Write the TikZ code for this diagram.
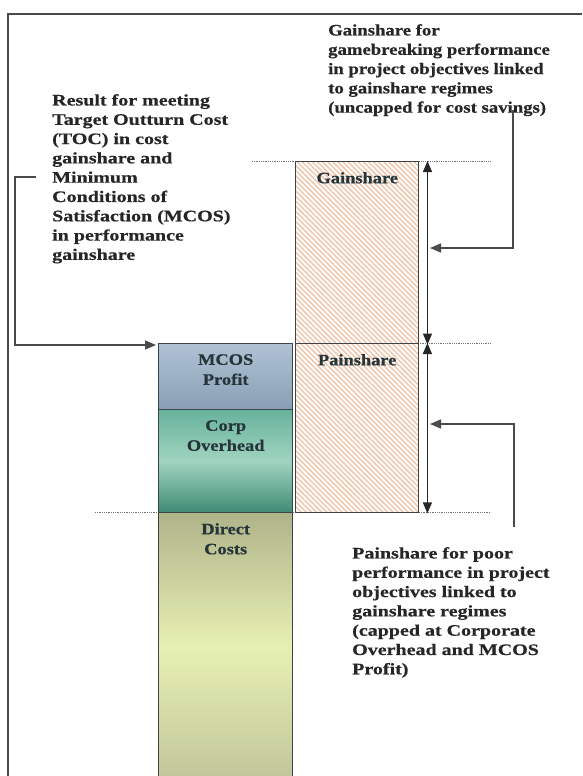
\documentclass[tikz,border=0pt]{standalone}
\usepackage{fontspec}
\usetikzlibrary{arrows.meta,patterns.meta,positioning}
\newfontfamily\calloutfont{Liberation Serif}[FakeStretch=1.25,FakeBold=0.5]
\newfontfamily\gainfont{Liberation Serif}[FakeStretch=1.17,FakeBold=0.5]
\newfontfamily\barfont{Liberation Serif}[FakeStretch=1.15,FakeBold=0.5]
\definecolor{framegray}{HTML}{4A4A4A}
\definecolor{bardark}{HTML}{3C4446}
\definecolor{labelink}{HTML}{26353A}
\definecolor{textink}{HTML}{262626}
\definecolor{hatch}{HTML}{F0C6AA}
\definecolor{mcostop}{HTML}{B0C2D4}
\definecolor{mcosbot}{HTML}{899FB5}
\definecolor{corptop}{HTML}{68B29B}
\definecolor{corpmid}{HTML}{A0D4C0}
\definecolor{corpbot}{HTML}{3E8A73}
\definecolor{directtop}{HTML}{B0B48A}
\definecolor{directmid}{HTML}{E7F0B3}
\definecolor{directbot}{HTML}{C0C59A}
\tikzset{
  bar/.style={draw=bardark, line width=1.4pt, minimum width=134pt, inner sep=0pt, anchor=north west},
  sharebar/.style={bar, minimum width=123pt, fill=white, pattern={Lines[angle=-45,distance=3.6pt,line width=1.5pt]}, pattern color=hatch},
  barlabel/.style={inner sep=0pt, align=center, text=labelink, font=\barfont\bfseries\fontsize{16}{20}\selectfont},
  callout/.style={inner sep=0pt, align=left, anchor=north west, text=textink, font=\calloutfont\bfseries\fontsize{16}{19.3}\selectfont},
  pointer/.style={draw=framegray, line width=1.4pt, -{Triangle[length=11pt,width=9pt]}},
  span/.style={draw=black!85, line width=1.4pt, {Triangle[length=11pt,width=9pt]}-{Triangle[length=11pt,width=9pt]}},
  guide/.style={draw=black!55, line width=0.8pt, densely dotted},
}
\begin{document}
\begin{tikzpicture}[x=1pt,y=-1pt]
    \useasboundingbox (0,0) rectangle (583,776);
    % page frame
    \draw[framegray, line width=2pt] (8,780) -- (8,14) -- (582,14);
    % dotted levels
    \draw[guide] (252,161) -- (491,161);
    \draw[guide] (418,343) -- (491,343);
    \draw[guide] (95,512) -- (491,512);
    % cost stack
    \node[bar, minimum height=66pt, top color=mcostop, bottom color=mcosbot] (mcos) at (158,343) {};
    \node[bar, minimum height=103pt, top color=corptop, bottom color=corpbot, middle color=corpmid] (corp) at (158,409) {};
    \node[bar, minimum height=270pt, top color=directtop, bottom color=directbot, middle color=directmid] (direct) at (158,512) {};
    \node[barlabel, below=11pt of mcos.north] (mcoslbl) {MCOS\\Profit};
    \node[barlabel, below=11pt of corp.north] (corplbl) {Corp\\Overhead};
    \node[barlabel, below=11pt of direct.north] (directlbl) {Direct\\Costs};
    % gain / pain shares
    \node[sharebar, minimum height=182pt] (gain) at (295,161) {};
    \node[sharebar, minimum height=169pt] (pain) at (295,343) {};
    \node[barlabel, below=11pt of gain.north] (gainlbl) {Gainshare};
    \node[barlabel, below=11pt of pain.north] (painlbl) {Painshare};
    % range arrows
    \draw[span] ([xshift=8pt]gain.north east) -- ([xshift=8pt]gain.south east);
    \draw[span] ([xshift=8pt]pain.north east) -- ([xshift=8pt]pain.south east);
    % callout texts
    \node[callout] (toctxt) at (52,94) {Result for meeting\\Target Outturn Cost\\(TOC) in cost\\gainshare and\\Minimum\\Conditions of\\Satisfaction (MCOS)\\in performance\\gainshare};
    \node[callout, font=\gainfont\bfseries\fontsize{16}{19.3}\selectfont] (gaintxt) at (328,24) {Gainshare for\\gamebreaking performance\\in project objectives linked\\to gainshare regimes\\(uncapped for cost savings)};
    \node[callout] (paintxt) at (352,547) {Painshare for poor\\performance in project\\objectives linked to\\gainshare regimes\\(capped at Corporate\\Overhead and MCOS\\Profit)};
    % callout connectors
    \coordinate (tocstart) at (36,177);
    \coordinate (tocbend) at (15,177);
    \coordinate (tocfoot) at (15,345);
    \draw[pointer] (tocstart) -- (tocbend) -- (tocfoot) -- ([yshift=-2pt,xshift=-2pt]mcos.north west);
    \coordinate (gainbend) at (513,248);
    \coordinate (gainpt) at (430,248);
    \draw[pointer] ([yshift=6pt]gaintxt.south -| gainbend) -- (gainbend) -- (gainpt);
    \coordinate (painbend) at (514,424);
    \coordinate (painpt) at (430,424);
    \draw[pointer] ([yshift=20pt]paintxt.north -| painbend) -- (painbend) -- (painpt);
\end{tikzpicture}
\end{document}
